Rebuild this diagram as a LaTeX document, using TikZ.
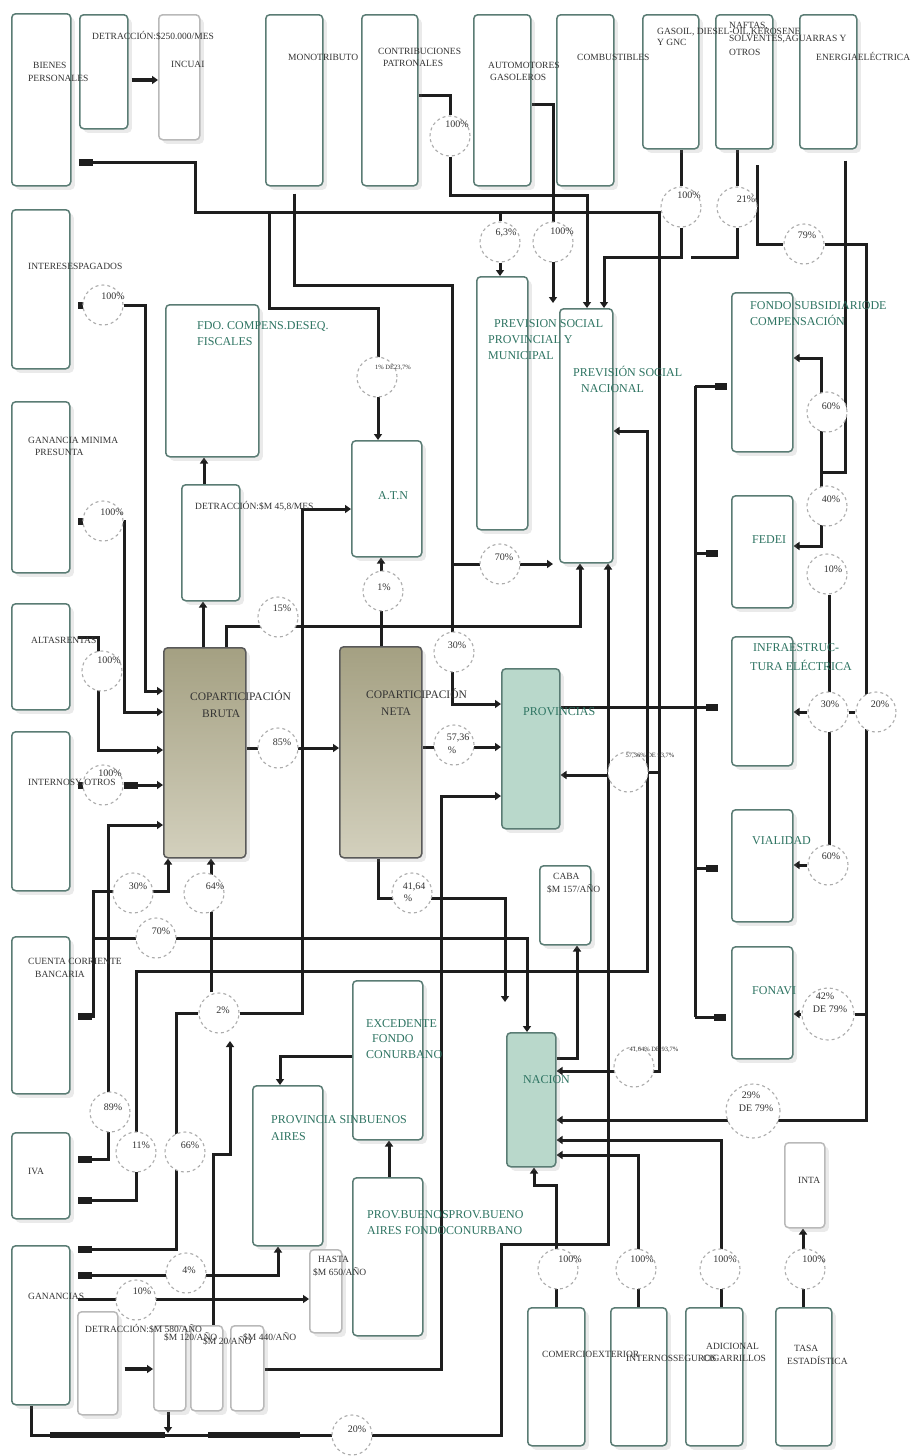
\documentclass[tikz,border=0pt]{standalone}
\usepackage{fontspec}
\setmainfont{Liberation Serif}
\usetikzlibrary{arrows.meta,shadows,backgrounds}
\definecolor{bord}{HTML}{5A7C74}
\definecolor{gtxt}{HTML}{2E7462}
\definecolor{ttxt}{HTML}{333333}
\definecolor{oliveT}{HTML}{A4A082}
\definecolor{oliveB}{HTML}{D3D0BD}
\definecolor{tealF}{HTML}{B9D8CB}
\definecolor{lnc}{HTML}{1E1E1E}
\tikzset{
 box/.style={draw=bord, line width=1.5pt, rounded corners=4pt, fill=white, inner sep=0pt,
   drop shadow={shadow xshift=4pt,shadow yshift=-4pt,opacity=0.16}},
 sbox/.style={box, draw=gray!55},
 olive/.style={box, draw=black!65, top color=oliveT, bottom color=oliveB},
 tealbox/.style={box, fill=tealF},
 pc/.style={circle, draw=gray!65, dashed, line width=1.1pt, fill=white, inner sep=0pt},
 ln/.style={draw=lnc, line width=3pt},
 tA/.style={arrows={-Triangle[length=6pt,width=8pt]}},
 tS/.style={arrows={Rectangle[length=14pt,width=7pt]-}},
 tSA/.style={arrows={Rectangle[length=14pt,width=7pt]-Triangle[length=6pt,width=8pt]}},
 tE/.style={arrows={-Rectangle[length=12pt,width=7pt]}},
 lt/.style={font=\fontsize{9.5}{10}\selectfont, text=ttxt, inner sep=0pt, anchor=west, text height=6.3pt, text depth=0pt},
 lb/.style={font=\fontsize{11.5}{12}\selectfont, text=ttxt, inner sep=0pt, anchor=west, text height=7.6pt, text depth=0pt},
 lg/.style={font=\fontsize{12}{13}\selectfont, text=gtxt, inner sep=0pt, anchor=west, text height=8pt, text depth=0pt},
 lp/.style={font=\fontsize{10}{11}\selectfont, text=ttxt, inner sep=0pt, text height=6.6pt, text depth=0pt},
 lx/.style={font=\fontsize{6.5}{7}\selectfont, text=ttxt, inner sep=0pt, text height=4.4pt, text depth=0pt},
}
\newcommand\mkbox[6][box]{\node[#1,minimum width={#5-#3},minimum height={#6-#4},anchor=north west] (#2) at (#3,#4) {};}
\newcommand\mkc[4][40]{\node[pc,minimum size=#1] (#2) at (#3,#4) {};}
\begin{document}
\begin{tikzpicture}[x=1pt,y=-1pt]
\useasboundingbox (0,0) rectangle (912,1456);
% ---------------- boxes
\mkbox{bienes}{11}{13}{70}{185}
\mkbox{detr1}{79}{14}{127}{128}
\mkbox[sbox]{incuai}{158}{14}{199}{139}
\mkbox{mono}{265}{14}{322}{185}
\mkbox{contrib}{361}{14}{417}{185}
\mkbox{autom}{473}{14}{530}{185}
\mkbox{combus}{556}{14}{613}{185}
\mkbox{gasoil}{642}{14}{698}{148}
\mkbox{naftas}{715}{14}{772}{148}
\mkbox{energia}{799}{14}{856}{148}
\mkbox{intereses}{11}{209}{69}{368}
\mkbox{fdo}{165}{304}{258}{456}
\mkbox{gmp}{11}{401}{69}{572}
\mkbox{detr2}{181}{484}{239}{600}
\mkbox{altas}{11}{603}{69}{709}
\mkbox[olive]{cbruta}{163}{647}{245}{857}
\mkbox{atn}{351}{440}{421}{556}
\mkbox{prevprov}{476}{276}{527}{529}
\mkbox{prevnac}{559}{308}{612}{562}
\mkbox{fondosub}{731}{292}{792}{451}
\mkbox{fedei}{731}{495}{792}{607}
\mkbox{infra}{731}{636}{792}{765}
\mkbox[olive]{cneta}{339}{646}{421}{857}
\mkbox[tealbox]{provs}{501}{668}{559}{828}
\mkbox{internos}{11}{731}{69}{890}
\mkbox{caba}{539}{865}{590}{944}
\mkbox{vialidad}{731}{809}{792}{921}
\mkbox{fonavi}{731}{946}{792}{1058}
\mkbox{cuenta}{11}{936}{69}{1093}
\mkbox{excedente}{352}{980}{422}{1139}
\mkbox[tealbox]{nacion}{506}{1032}{555}{1166}
\mkbox{provsinba}{252}{1085}{322}{1245}
\mkbox{iva}{11}{1132}{69}{1218}
\mkbox{provba}{352}{1177}{422}{1335}
\mkbox[sbox]{inta}{784}{1142}{824}{1227}
\mkbox{ganancias}{11}{1245}{69}{1404}
\mkbox[sbox]{hasta}{309}{1249}{341}{1332}
\mkbox[sbox]{detr3}{77}{1311}{117}{1414}
\mkbox[sbox]{m120}{153}{1325}{185}{1410}
\mkbox[sbox]{m20}{190}{1325}{222}{1410}
\mkbox[sbox]{m440}{230}{1325}{263}{1410}
\mkbox{comercio}{527}{1307}{584}{1445}
\mkbox{intseg}{610}{1307}{666}{1445}
\mkbox{adicional}{685}{1307}{742}{1445}
\mkbox{tasa}{775}{1307}{831}{1445}
% ---------------- circles
\mkc{cpat}{450}{136}
\mkc{c63}{500}{242}
\mkc{cauto}{553}{242}
\mkc{cgas}{681}{207}
\mkc{c21}{737}{207}
\mkc{c79}{804}{244}
\mkc{cint}{103}{305}
\mkc{c1de}{377}{377}
\mkc{cgmp}{103}{521}
\mkc{c15}{278}{617}
\mkc{calt}{102}{671}
\mkc{c1}{383}{591}
\mkc{c70a}{500}{564}
\mkc{c30p}{454}{652}
\mkc{c60a}{827}{412}
\mkc{c40}{827}{506}
\mkc{c10a}{827}{574}
\mkc{c30i}{828}{712}
\mkc{c20a}{876}{712}
\mkc{cinto}{103}{785}
\mkc{c85}{278}{748}
\mkc{c5736}{454}{745}
\mkc{c5736de}{628}{772}
\mkc{c30c}{133}{893}
\mkc{c64}{204}{893}
\mkc{c4164}{412}{893}
\mkc{c70c}{156}{938}
\mkc{c2}{219}{1013}
\mkc{c60v}{828}{865}
\mkc[52]{c42}{828}{1014}
\mkc{c4164de}{634}{1067}
\mkc[54]{c29}{753}{1111}
\mkc{c89}{110}{1112}
\mkc{c11}{136}{1152}
\mkc{c66}{185}{1152}
\mkc{c4}{186}{1273}
\mkc{c10g}{136}{1300}
\mkc{c20g}{352}{1435}
\mkc{cce}{558}{1269}
\mkc{cis}{636}{1269}
\mkc{cad}{720}{1269}
\mkc{cta}{805}{1269}
% ---------------- connectors (under the nodes)
\begin{scope}[on background layer]
\fill[white] (0,0) rectangle (912,1456);
\draw[ln,tA,line width=3.6pt,shorten <=3pt] (detr1.east |- 0,80) -- (incuai.west |- 0,80);
\draw[ln,tSA,shorten <=7pt] (bienes.east |- 0,162) -- (195,162) -- (195,212) -- (659,212) -- (659,1071) -- (nacion.east |- 0,1071);
\draw[ln] (659,772) -- (c5736de.east);
\draw[ln,tA] (c5736de.west |- 0,775) -- (provs.east |- 0,775);
\draw[ln] (500,212) -- (c63.north);
\draw[ln,tA] (c63.south) -- (prevprov.north -| 500,0);
\draw[ln] (contrib.east |- 0,95) -- (450,95) -- (cpat.north);
\draw[ln,tA] (cpat.south) -- (450,195) -- (587,195) -- (prevnac.north -| 587,0);
\draw[ln,tA] (autom.east |- 0,104) -- (553,104) -- (553,303);
\draw[ln] (gasoil.south -| 681,0) -- (cgas.north);
\draw[ln,tA] (cgas.south) -- (681,257) -- (604,257) -- (prevnac.north -| 604,0);
\draw[ln] (naftas.south -| 737,0) -- (c21.north);
\draw[ln] (c21.south) -- (737,257) -- (691,257);
\draw[ln] (757,165) -- (757,244) -- (c79.west);
\draw[ln,tA] (c79.east) -- (866,244) -- (866,1120) -- (nacion.east |- 0,1120);
\draw[ln] (866,1014) -- (c42.east);
\draw[ln,tA] (c42.west) -- (fonavi.east |- c42.west);
\draw[ln] (c30i.east) -- (c20a.west);
\draw[ln,tA,shorten <=11pt] (energia.south -| 845,0) -- (845,472) -- (821,472) -- (821,358) -- (fondosub.east |- 0,358);
\draw[ln,tA] (821,472) -- (821,546) -- (fedei.east |- 0,546);
\draw[ln] (c10a.south -| 829,0) -- (829,846);
\draw[ln,tA] (c30i.west) -- (infra.east |- c30i.west);
\draw[ln,tA] (c60v.west) -- (vialidad.east |- c60v.west);
\draw[ln,tE,shorten >=13pt] (provs.east |- 0,707) -- (infra.west |- 0,707);
\draw[ln] (695,386) -- (695,1017);
\draw[ln,tE,shorten >=4pt] (695,386) -- (fondosub.west |- 0,386);
\draw[ln,tE,shorten >=13pt] (695,553) -- (fedei.west |- 0,553);
\draw[ln,tE,shorten >=13pt] (695,868) -- (vialidad.west |- 0,868);
\draw[ln,tE,shorten >=5pt] (695,1017) -- (fonavi.west |- 0,1017);
\draw[ln,tS,shorten <=7pt] (intereses.east |- cint) -- (cint.west);
\draw[ln,tA] (cint.east) -- (145,305) -- (145,691) -- (cbruta.west |- 0,691);
\draw[ln,tS,shorten <=7pt] (gmp.east |- cgmp) -- (cgmp.west);
\draw[ln,tA] (cgmp.east) -- (124,521) -- (124,712) -- (cbruta.west |- 0,712);
\draw[ln,tA,shorten <=7pt] (altas.east |- 0,637) -- (98,637) -- (98,750) -- (cbruta.west |- 0,750);
\draw[ln,tS,shorten <=7pt] (internos.east |- cinto) -- (cinto.west);
\draw[ln,tSA] (cinto.east) -- (cbruta.west |- cinto.east);
\draw[ln,tSA,shorten <=7pt] (iva.east |- 0,1159) -- (108,1159) -- (108,825) -- (cbruta.west |- 0,825);
\draw[ln,tSA,shorten <=7pt] (iva.east |- 0,1200) -- (136,1200) -- (136,971) -- (647,971) -- (647,431) -- (prevnac.east |- 0,431);
\draw[ln,tSA,shorten <=7pt] (cuenta.east |- 0,1016) -- (93,1016) -- (93,891) -- (168,891) -- (cbruta.south -| 168,0);
\draw[ln,tA] (93,938) -- (527,938) -- (nacion.north -| 527,0);
\draw[ln,tA] (cbruta.east |- 0,748) -- (cneta.west |- 0,748);
\draw[ln,tA] (cbruta.north -| 203,0) -- (detr2.south -| 203,0);
\draw[ln,tA] (detr2.north -| 204,0) -- (fdo.south -| 204,0);
\draw[ln,tA] (cbruta.north -| 226,0) -- (226,626) -- (580,626) -- (prevnac.south -| 580,0);
\draw[ln,tA] (cneta.north -| 381,0) -- (atn.south -| 381,0);
\draw[ln,tA] (269,212) -- (269,308) -- (378,308) -- (atn.north -| 378,0);
\draw[ln,tA,shorten <=7pt] (mono.south -| 294,0) -- (294,285) -- (452,285) -- (452,704) -- (provs.west |- 0,704);
\draw[ln,tA] (452,564) -- (553,564);
\draw[ln,tA] (c2.east) -- (302,1013) -- (302,509) -- (atn.west |- 0,509);
\draw[ln,tA] (c2.north -| 211,0) -- (cbruta.south -| 211,0);
\draw[ln,tS,shorten <=7pt] (ganancias.east |- 0,1249) -- (176,1249) -- (176,1013) -- (c2.west);
\draw[ln,tA] (m20.north -| 213,0) -- (213,1154) -- (230,1154) -- (230,1041);
\draw[ln,tSA,shorten <=7pt] (ganancias.east |- 0,1275) -- (278,1275) -- (provsinba.south -| 278,0);
\draw[ln,tA,shorten <=7pt] (ganancias.east |- 0,1299) -- (hasta.west |- 0,1299);
\draw[ln,tA,line width=3.6pt,shorten <=6pt] (detr3.east |- 0,1369) -- (m120.west |- 0,1369);
\draw[ln,tA] (m440.east |- 0,1369) -- (441,1369) -- (441,796) -- (provs.west |- 0,796);
\draw[ln,tA] (ganancias.south -| 31,0) -- (31,1435) -- (501,1435) -- (501,1244) -- (608,1244) -- (prevnac.south -| 608,0);
\draw[draw=lnc,line width=5.5pt] (50,1435) -- (165,1435) (208,1435) -- (300,1435);
\draw[ln,tA] (m120.south -| 168,0) -- (168,1433);
\draw[ln,tA] (excedente.west |- 0,1056) -- (280,1056) -- (provsinba.north -| 280,0);
\draw[ln,tA] (provba.north -| 389,0) -- (excedente.south -| 389,0);
\draw[ln,tA] (cneta.south -| 378,0) -- (378,898) -- (505,898) -- (505,1002);
\draw[ln,tA] (nacion.east |- 0,1058) -- (577,1058) -- (caba.south -| 577,0);
\draw[ln,tA] (adicional.north -| 721,0) -- (721,1140) -- (nacion.east |- 0,1140);
\draw[ln,tA] (intseg.north -| 638,0) -- (638,1155) -- (nacion.east |- 0,1155);
\draw[ln,tA] (comercio.north -| 556,0) -- (556,1185) -- (534,1185) -- (nacion.south -| 534,0);
\draw[ln,tA] (tasa.north -| 803,0) -- (inta.south -| 803,0);
\draw[ln,tA] (cneta.east |- 0,747) -- (provs.west |- 0,747);
\end{scope}
% ---------------- box texts
\node[lt] (t1) at (33,65) {BIENES};
\node[lt] (t2) at (28,78) {PERSONALES};
\node[lt] (t3) at (92,36) {DETRACCIÓN:\$250.000/MES};
\node[lt] (t4) at (171,64) {INCUAI};
\node[lt] (t5) at (288,57) {MONOTRIBUTO};
\node[lt] (t6) at (378,51) {CONTRIBUCIONES};
\node[lt] (t7) at (383,63) {PATRONALES};
\node[lt] (t8) at (488,65) {AUTOMOTORES};
\node[lt] (t9) at (490,77) {GASOLEROS};
\node[lt] (t10) at (577,57) {COMBUSTIBLES};
\node[lt] (t11) at (657,31) {GASOIL, DIESEL-OIL,KEROSENE};
\node[lt] (t12) at (657,42) {Y GNC};
\node[lt] (t13) at (729,25) {NAFTAS,};
\node[lt] (t14) at (729,38) {SOLVENTES,AGUARRAS Y};
\node[lt] (t15) at (729,52) {OTROS};
\node[lt] (t16) at (816,57) {ENERGIAELÉCTRICA};
\node[lt] (t17) at (28,266) {INTERESESPAGADOS};
\node[lt] (t18) at (28,440) {GANANCIA MINIMA};
\node[lt] (t19) at (35,452) {PRESUNTA};
\node[lt] (t20) at (195,506) {DETRACCIÓN:\$M 45,8/MES};
\node[lt] (t21) at (31,640) {ALTASRENTAS};
\node[lb] (t22) at (190,697) {COPARTICIPACIÓN};
\node[lb] (t23) at (202,714) {BRUTA};
\node[lb] (t24) at (366,695) {COPARTICIPACIÓN};
\node[lb] (t25) at (381,712) {NETA};
\node[lt] (t26) at (28,782) {INTERNOSY OTROS};
\node[lt] (t27) at (553,876) {CABA};
\node[lt] (t28) at (547,889) {\$M 157/AÑO};
\node[lt] (t29) at (28,961) {CUENTA CORRIENTE};
\node[lt] (t30) at (35,974) {BANCARIA};
\node[lt] (t31) at (28,1171) {IVA};
\node[lt] (t32) at (28,1296) {GANANCIAS};
\node[lt] (t33) at (318,1259) {HASTA};
\node[lt] (t34) at (313,1272) {\$M 650/AÑO};
\node[lt] (t35) at (85,1329) {DETRACCIÓN:\$M 580/AÑO};
\node[lt] (t36) at (164,1337) {\$M 120/AÑO};
\node[lt] (t37) at (203,1341) {\$M 20/AÑO};
\node[lt] (t38) at (243,1337) {\$M 440/AÑO};
\node[lt] (t39) at (798,1180) {INTA};
\node[lt] (t40) at (542,1354) {COMERCIOEXTERIOR};
\node[lt] (t41) at (626,1358) {INTERNOSSEGUROS};
\node[lt] (t42) at (706,1346) {ADICIONAL};
\node[lt] (t43) at (703,1358) {CIGARRILLOS};
\node[lt] (t44) at (794,1348) {TASA};
\node[lt] (t45) at (787,1361) {ESTADÍSTICA};
% green titles
\node[lg] (g1) at (197,325) {FDO. COMPENS.DESEQ.};
\node[lg] (g2) at (197,341) {FISCALES};
\node[lg] (g3) at (378,495) {A.T.N};
\node[lg] (g4) at (494,323) {PREVISION SOCIAL};
\node[lg] (g5) at (488,339) {PROVINCIAL Y};
\node[lg] (g6) at (488,355) {MUNICIPAL};
\node[lg] (g7) at (573,372) {PREVISIÓN SOCIAL};
\node[lg] (g8) at (581,388) {NACIONAL};
\node[lg] (g9) at (750,305) {FONDO SUBSIDIARIODE};
\node[lg] (g10) at (750,321) {COMPENSACIÓN};
\node[lg] (g11) at (752,539) {FEDEI};
\node[lg] (g12) at (753,647) {INFRAESTRUC-};
\node[lg] (g13) at (750,666) {TURA ELÉCTRICA};
\node[lg] (g14) at (752,840) {VIALIDAD};
\node[lg] (g15) at (752,990) {FONAVI};
\node[lg] (g16) at (523,711) {PROVINCIAS};
\node[lg] (g17) at (366,1023) {EXCEDENTE};
\node[lg] (g18) at (372,1038) {FONDO};
\node[lg] (g19) at (366,1054) {CONURBANO};
\node[lg] (g20) at (523,1079) {NACION};
\node[lg] (g21) at (271,1119) {PROVINCIA SINBUENOS};
\node[lg] (g22) at (271,1136) {AIRES};
\node[lg] (g23) at (367,1214) {PROV.BUENOSPROV.BUENO};
\node[lg] (g24) at (367,1230) {AIRES FONDOCONURBANO};
% percent labels
\node[lp] (p1) at (457,124) {100\%};
\node[lp] (p2) at (506,232) {6,3\%};
\node[lp] (p3) at (562,231) {100\%};
\node[lp] (p4) at (689,195) {100\%};
\node[lp] (p5) at (746,199) {21\%};
\node[lp] (p6) at (807,235) {79\%};
\node[lp] (p7) at (113,296) {100\%};
\node[lx] (p8) at (393,367) {1\% DE23,7\%};
\node[lp] (p9) at (112,512) {100\%};
\node[lp] (p10) at (282,608) {15\%};
\node[lp] (p11) at (109,660) {100\%};
\node[lp] (p12) at (384,587) {1\%};
\node[lp] (p13) at (504,557) {70\%};
\node[lp] (p14) at (457,645) {30\%};
\node[lp] (p15) at (831,406) {60\%};
\node[lp] (p16) at (831,499) {40\%};
\node[lp] (p17) at (833,569) {10\%};
\node[lp] (p18) at (830,704) {30\%};
\node[lp] (p19) at (880,704) {20\%};
\node[lp] (p20) at (110,773) {100\%};
\node[lp] (p21) at (282,742) {85\%};
\node[lp] (p22) at (458,737) {57,36};
\node[lp] (p23) at (452,750) {\%};
\node[lx] (p24) at (650,755) {57,36\% DE 93,7\%};
\node[lp] (p25) at (138,886) {30\%};
\node[lp] (p26) at (215,886) {64\%};
\node[lp] (p27) at (414,886) {41,64};
\node[lp] (p28) at (408,898) {\%};
\node[lp] (p29) at (161,931) {70\%};
\node[lp] (p30) at (223,1010) {2\%};
\node[lp] (p31) at (831,856) {60\%};
\node[lp] (p32) at (825,996) {42\%};
\node[lp] (p33) at (830,1009) {DE 79\%};
\node[lx] (p34) at (654,1049) {41,64\% DE 93,7\%};
\node[lp] (p35) at (751,1095) {29\%};
\node[lp] (p36) at (756,1108) {DE 79\%};
\node[lp] (p37) at (113,1107) {89\%};
\node[lp] (p38) at (141,1145) {11\%};
\node[lp] (p39) at (190,1145) {66\%};
\node[lp] (p40) at (189,1270) {4\%};
\node[lp] (p41) at (142,1291) {10\%};
\node[lp] (p42) at (357,1429) {20\%};
\node[lp] (p43) at (570,1259) {100\%};
\node[lp] (p44) at (642,1259) {100\%};
\node[lp] (p45) at (725,1259) {100\%};
\node[lp] (p46) at (814,1259) {100\%};
\end{tikzpicture}
\end{document}
